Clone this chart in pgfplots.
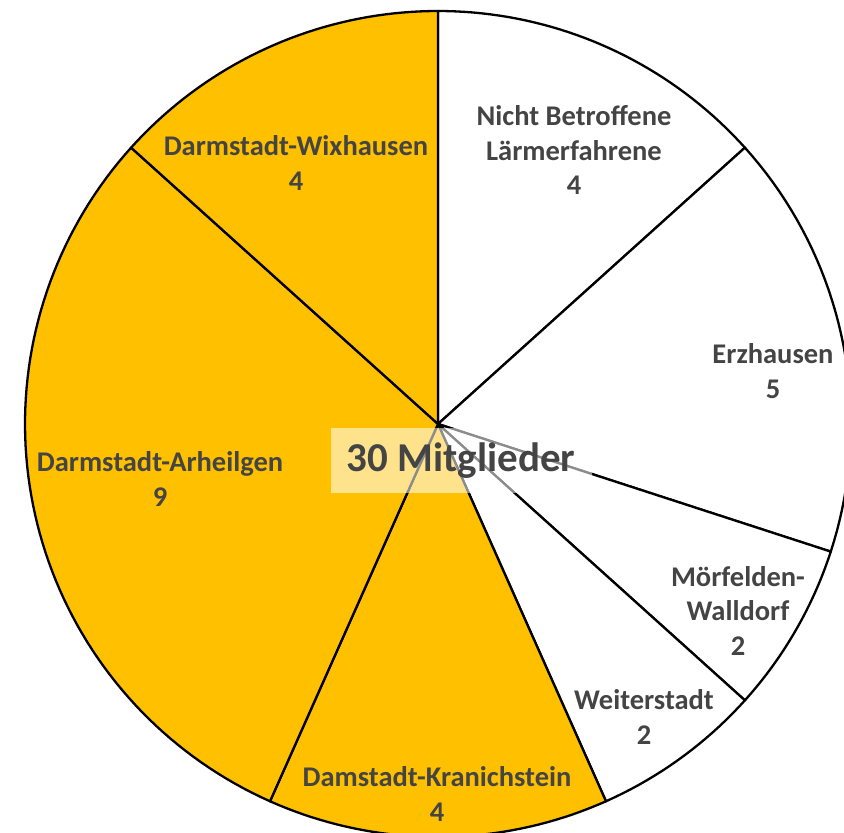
\documentclass[border=0pt]{standalone}
\usepackage{pgfplots}
\pgfplotsset{compat=1.18}
\usepackage{fontspec}
\setmainfont{Carlito}
\definecolor{pieorange}{HTML}{FFC000}
\definecolor{labelgray}{HTML}{444444}
\begin{document}
\begin{tikzpicture}
\begin{axis}[
  width=844pt, height=833pt, scale only axis,
  xmin=0, xmax=844, ymin=-833, ymax=0,
  hide axis,
  clip=true,
]
% slices: cumulative member counts (total 30 -> 12 degrees per member)
\addplot[fill=white, draw=black, line width=2.3pt, line join=round, domain=0:4, samples=40]
  ({438+413*sin(12*x)}, {-424+413*cos(12*x)}) -- (axis cs:438,-424) -- cycle;
\addplot[fill=white, draw=black, line width=2.3pt, line join=round, domain=4:9, samples=40]
  ({438+413*sin(12*x)}, {-424+413*cos(12*x)}) -- (axis cs:438,-424) -- cycle;
\addplot[fill=white, draw=black, line width=2.3pt, line join=round, domain=9:11, samples=20]
  ({438+413*sin(12*x)}, {-424+413*cos(12*x)}) -- (axis cs:438,-424) -- cycle;
\addplot[fill=white, draw=black, line width=2.3pt, line join=round, domain=11:13, samples=20]
  ({438+413*sin(12*x)}, {-424+413*cos(12*x)}) -- (axis cs:438,-424) -- cycle;
\addplot[fill=pieorange, draw=black, line width=2.3pt, line join=round, domain=13:17, samples=40]
  ({438+413*sin(12*x)}, {-424+413*cos(12*x)}) -- (axis cs:438,-424) -- cycle;
\addplot[fill=pieorange, draw=black, line width=2.3pt, line join=round, domain=17:26, samples=80]
  ({438+413*sin(12*x)}, {-424+413*cos(12*x)}) -- (axis cs:438,-424) -- cycle;
\addplot[fill=pieorange, draw=black, line width=2.3pt, line join=round, domain=26:30, samples=40]
  ({438+413*sin(12*x)}, {-424+413*cos(12*x)}) -- (axis cs:438,-424) -- cycle;

% centre label box
\fill[white, fill opacity=0.55] (axis cs:331,-428) rectangle (axis cs:592,-493);

\tikzset{lbl/.style={align=center, text=labelgray, font=\fontsize{28.5}{34.5}\selectfont\bfseries, inner sep=0pt}}
\node[lbl] at (axis cs:574,-150) {Nicht Betroffene\\Lärmerfahrene\\4};
\node[lbl] at (axis cs:773,-371) {Erzhausen\\5};
\node[lbl] at (axis cs:738,-611) {Mörfelden-\\Walldorf\\2};
\node[lbl] at (axis cs:644,-717) {Weiterstadt\\2};
\node[lbl] at (axis cs:437,-794) {Damstadt-Kranichstein\\4};
\node[lbl] at (axis cs:160,-479) {Darmstadt-Arheilgen\\9};
\node[lbl] at (axis cs:296,-163) {Darmstadt-Wixhausen\\4};
\node[text=labelgray, font=\fontsize{41}{48}\selectfont\bfseries, inner sep=0pt, anchor=base] at (axis cs:461,-472) {30 Mitglieder};
\end{axis}
\pgfresetboundingbox
\path (current axis.south west) rectangle (current axis.north east);
\end{tikzpicture}
\end{document}
